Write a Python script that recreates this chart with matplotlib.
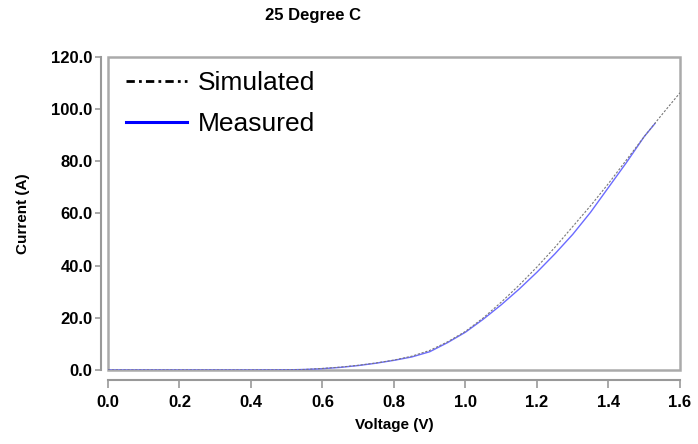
import matplotlib
matplotlib.use('Agg')
import matplotlib.pyplot as plt
from matplotlib.lines import Line2D
from matplotlib.patches import Rectangle

plt.rcParams['font.family'] = ['Liberation Sans', 'DejaVu Sans']
plt.rcParams['font.weight'] = 'bold'

# measured I-V curve
meas_v = [0, 0.1, 0.2, 0.3, 0.4, 0.5, 0.55, 0.6, 0.65, 0.7, 0.75, 0.8, 0.85, 0.9,
          0.95, 1.0, 1.05, 1.1, 1.15, 1.2, 1.25, 1.3, 1.35, 1.4, 1.45, 1.5, 1.53]
meas_i = [0, 0, 0, 0, 0, 0.05, 0.2, 0.5, 1.0, 1.7, 2.6, 3.7, 5.0, 7.0,
          10.5, 14.5, 19.5, 25.0, 31.0, 37.5, 44.5, 52.0, 60.5, 70.0, 79.5, 89.5, 94.5]

# simulated I-V curve
sim_v = [0, 0.4, 0.5, 0.55, 0.6, 0.65, 0.7, 0.75, 0.8, 0.85, 0.9, 0.95, 1.0, 1.05,
         1.1, 1.15, 1.2, 1.25, 1.3, 1.35, 1.4, 1.45, 1.5, 1.55, 1.6]
sim_i = [0, 0, 0.05, 0.2, 0.6, 1.1, 1.8, 2.7, 3.8, 5.3, 7.5, 10.8, 14.8, 20.0,
         26.0, 32.5, 39.5, 47.0, 55.0, 63.0, 71.5, 80.5, 89.5, 98.0, 106.3]

xticks = [0.0, 0.2, 0.4, 0.6, 0.8, 1.0, 1.2, 1.4, 1.6]
yticks = [0, 20, 40, 60, 80, 100, 120]

fig = plt.figure(figsize=(6.98, 4.44), dpi=100)
ax = fig.add_axes([0.1547, 0.1667, 0.8195, 0.7049])

ax.plot(meas_v, meas_i, color='#6b6bff', lw=1.0)
ax.plot(sim_v, sim_i, color='#777777', lw=0.8, linestyle=(0, (2, 1.5)))

ax.set_xlim(0, 1.6)
ax.set_ylim(0, 120)
ax.set_xticks(xticks)
ax.set_yticks(yticks)
ax.set_xticklabels(['%.1f' % t for t in xticks])
ax.set_yticklabels(['%.1f' % t for t in yticks])

for s in ['top', 'right']:
    ax.spines[s].set_visible(False)
ax.spines['left'].set_position(('outward', 5))
ax.spines['bottom'].set_position(('outward', 7))
for s in ['left', 'bottom']:
    ax.spines[s].set_color('#999999')
    ax.spines[s].set_linewidth(1.5)
ax.tick_params(axis='y', length=4.5, width=1.2, color='#999999', pad=1.5,
               labelsize=12)
ax.tick_params(axis='x', length=6, width=1.2, color='#999999', pad=5,
               labelsize=12)

ax.add_patch(Rectangle((0, 0), 1, 1, transform=ax.transAxes, fill=False,
                       edgecolor='#aaaaaa', lw=1.8, clip_on=False, zorder=0))

ax.set_xlabel('Voltage (V)', fontweight='bold', fontsize=11, labelpad=6)
ax.set_ylabel('Current (A)', fontweight='bold', fontsize=11, labelpad=15)
fig.text(0.449, 0.965, '25 Degree C', ha='center', va='center',
         fontweight='bold', fontsize=12)

handles = [Line2D([], [], color='black', lw=2, linestyle=(0, (3, 1.5, 1, 1.5))),
           Line2D([], [], color='#0000ff', lw=2.2)]
ax.legend(handles, ['Simulated', 'Measured'], loc='upper left',
          bbox_to_anchor=(0.0, 1.015), frameon=False,
          prop={'size': 19, 'weight': 'normal'},
          handlelength=2.3, handletextpad=0.4, labelspacing=0.65,
          borderaxespad=0.3)

fig.savefig('out.png', dpi=100)
